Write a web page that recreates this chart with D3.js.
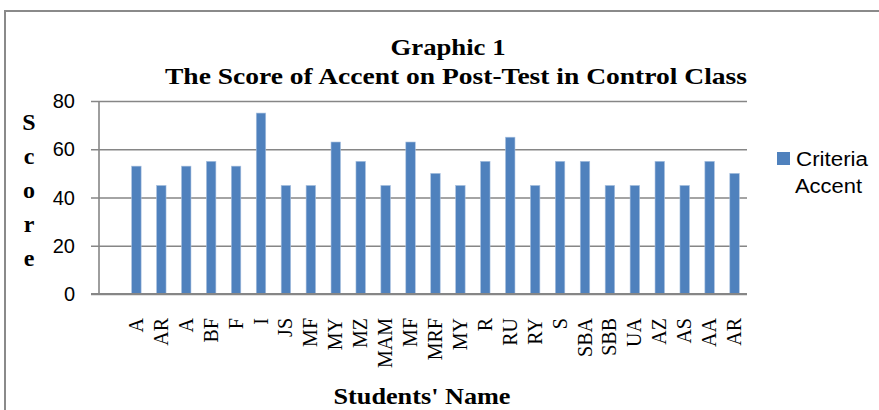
<!DOCTYPE html>
<html lang="en">
<head>
    <meta charset="UTF-8">
    <title>Graphic 1</title>
    <style>
        body { margin: 0; background: #fff; }
        svg { display: block; }
    </style>
</head>
<body>
<svg></svg>
<script src="https://d3js.org/d3.v7.min.js"></script>
<script>
    // data
    var names = ["A", "AR", "A", "BF", "F", "I", "JS", "MF", "MY", "MZ", "MAM", "MF", "MRF",
        "MY", "R", "RU", "RY", "S", "SBA", "SBB", "UA", "AZ", "AS", "AA", "AR"];
    var scores = [53, 45, 53, 55, 53, 75, 45, 45, 63, 55, 45, 63, 50,
        45, 55, 65, 45, 55, 55, 45, 45, 55, 45, 55, 50];
    var yTicks = [0, 20, 40, 60, 80];
    var seriesName = ["Criteria", "Accent"];
    var yTitle = ["S", "c", "o", "r", "e"];

    var width = 879, height = 410;
    var plot = {left: 99, right: 747, top: 101, bottom: 294};
    var blue = "#4f81bd";
    var serif = "'Liberation Serif', 'Times New Roman', serif";
    var sans = "'Liberation Sans', Arial, sans-serif";

    var svg = d3.select("svg")
        .attr("width", width)
        .attr("height", height);

    // outer frame (runs off the right and bottom edge)
    svg.append("rect")
        .attr("x", 5).attr("y", 11)
        .attr("width", 900).attr("height", 420)
        .attr("fill", "none")
        .attr("stroke", "#8a8a8a")
        .attr("stroke-width", 2);

    // one empty slot in front of the first student, as in the picture
    var xScale = d3.scaleBand()
        .domain(d3.range(-1, names.length))
        .range([plot.left, plot.right])
        .paddingInner(0.62)
        .paddingOuter(0.31);
    var yScale = d3.scaleLinear().domain([0, 80]).range([plot.bottom, plot.top]);

    // gridlines + ticks
    var yAxis = d3.axisLeft(yScale)
        .tickValues(yTicks)
        .tickSize(-(plot.right - plot.left))
        .tickSizeOuter(0)
        .tickFormat("");
    var gy = svg.append("g")
        .attr("transform", "translate(" + plot.left + ",0)")
        .call(yAxis);
    gy.select(".domain").remove();
    gy.selectAll(".tick line")
        .attr("x1", -8)
        .attr("stroke", "#868686")
        .attr("stroke-width", 1.6);

    // vertical axis line
    svg.append("line")
        .attr("x1", plot.left).attr("x2", plot.left)
        .attr("y1", plot.top).attr("y2", plot.bottom)
        .attr("stroke", "#868686")
        .attr("stroke-width", 1.6);

    // y tick labels
    svg.append("g").selectAll("text")
        .data(yTicks)
        .enter().append("text")
        .attr("x", 75)
        .attr("y", function (d) { return yScale(d); })
        .attr("dy", "0.36em")
        .attr("text-anchor", "end")
        .style("font-family", sans)
        .style("font-size", "20px")
        .attr("fill", "#000")
        .text(function (d) { return d; });

    // bars
    svg.append("g").selectAll("rect")
        .data(scores)
        .enter().append("rect")
        .attr("x", function (d, i) { return xScale(i); })
        .attr("y", function (d) { return yScale(d); })
        .attr("width", xScale.bandwidth())
        .attr("height", function (d) { return yScale(0) - yScale(d); })
        .attr("fill", blue)
        .attr("stroke", "#a9c1e0")
        .attr("stroke-width", 0.6);

    // bottom axis line
    svg.append("line")
        .attr("x1", plot.left - 8).attr("x2", plot.right)
        .attr("y1", plot.bottom).attr("y2", plot.bottom)
        .attr("stroke", "#868686")
        .attr("stroke-width", 2);

    // x labels, rotated
    svg.append("g").selectAll("text")
        .data(names)
        .enter().append("text")
        .attr("transform", function (d, i) {
            var cx = xScale(i) + xScale.bandwidth() / 2 + 6.5;
            return "translate(" + cx + ",318) rotate(-90)";
        })
        .attr("text-anchor", "end")
        .style("font-family", serif)
        .style("font-size", "20px")
        .attr("fill", "#000")
        .text(function (d) { return d; });

    // title
    svg.append("text")
        .attr("x", 448).attr("y", 55)
        .attr("text-anchor", "middle")
        .attr("textLength", 115)
        .attr("lengthAdjust", "spacingAndGlyphs")
        .style("font-family", serif)
        .style("font-weight", "bold")
        .style("font-size", "24px")
        .text("Graphic 1");
    svg.append("text")
        .attr("x", 456).attr("y", 84)
        .attr("text-anchor", "middle")
        .attr("textLength", 582)
        .attr("lengthAdjust", "spacingAndGlyphs")
        .style("font-family", serif)
        .style("font-weight", "bold")
        .style("font-size", "24px")
        .text("The Score of Accent on Post-Test in Control Class");

    // y title, stacked letters
    svg.append("g").selectAll("text")
        .data(yTitle)
        .enter().append("text")
        .attr("x", 29)
        .attr("y", function (d, i) { return 130 + i * 34; })
        .attr("text-anchor", "middle")
        .style("font-family", serif)
        .style("font-weight", "bold")
        .style("font-size", "24px")
        .text(function (d) { return d; });

    // x title
    svg.append("text")
        .attr("x", 422).attr("y", 404)
        .attr("text-anchor", "middle")
        .attr("textLength", 177)
        .attr("lengthAdjust", "spacingAndGlyphs")
        .style("font-family", serif)
        .style("font-weight", "bold")
        .style("font-size", "24px")
        .text("Students' Name");

    // legend
    var legendWidths = [72, 67];
    var legend = svg.append("g");
    legend.append("rect")
        .attr("x", 777).attr("y", 152)
        .attr("width", 13).attr("height", 13)
        .attr("fill", blue);
    legend.selectAll("text")
        .data(seriesName)
        .enter().append("text")
        .attr("x", function (d, i) { return i ? 795 : 796; })
        .attr("y", function (d, i) { return 166 + i * 27; })
        .attr("textLength", function (d, i) { return legendWidths[i]; })
        .attr("lengthAdjust", "spacingAndGlyphs")
        .style("font-family", sans)
        .style("font-size", "20px")
        .text(function (d) { return d; });
</script>
</body>
</html>
